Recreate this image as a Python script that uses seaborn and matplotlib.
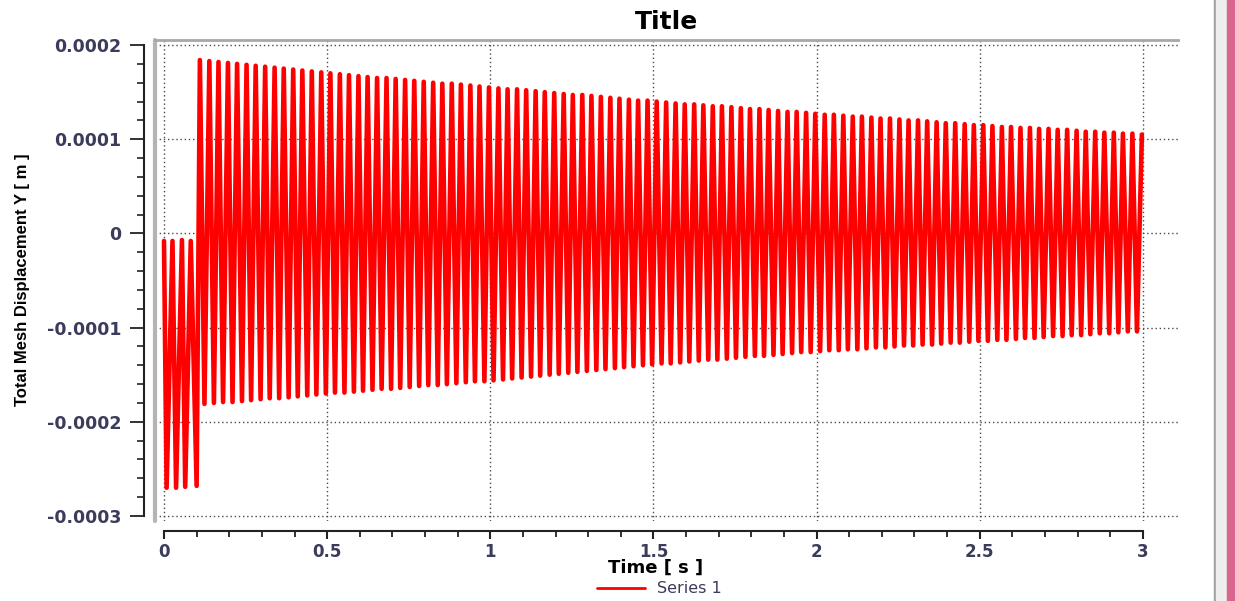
import pandas as pd
import matplotlib.pyplot as plt
import matplotlib.ticker as ticker
from matplotlib.lines import Line2D
from matplotlib.patches import Rectangle
import seaborn as sns

# extremes of the signal: time in ms, displacement in micrometres
early_ms = [0, 8, 26, 37, 55, 65, 82, 100]
early_um = [-8, -270, -8, -270, -7, -269, -8, -268]

top_ms = [110, 139, 167, 196, 224, 253, 281, 310, 339, 367, 396, 424, 453, 482, 510,
          539, 567, 596, 624, 653, 682, 710, 739, 767, 796, 825, 853, 882, 910, 939, 967, 996,
          1025, 1053, 1082, 1110, 1139, 1167, 1196, 1225, 1253, 1282, 1310, 1339, 1368, 1396, 1425, 1453, 1482, 1510,
          1539, 1568, 1596, 1625, 1653, 1682, 1710, 1739, 1768, 1796, 1825, 1853, 1882, 1911, 1939, 1968, 1996,
          2025, 2053, 2082, 2111, 2139, 2168, 2196, 2225, 2254, 2282, 2311, 2339, 2368, 2396, 2425, 2454, 2482,
          2511, 2539, 2568, 2596, 2625, 2654, 2682, 2711, 2739, 2768, 2797, 2825, 2854, 2882, 2911, 2939, 2968, 2997]
top_um = [184, 183, 182, 181, 180, 179, 178, 177, 176, 175, 174, 173, 172, 171, 170,
          169, 168, 167, 166, 165, 165, 164, 163, 162, 161, 160, 159, 159, 158, 157, 156, 155,
          154, 153, 153, 152, 151, 150, 149, 148, 147, 147, 146, 145, 144, 143, 142, 141, 141, 140,
          139, 138, 137, 137, 136, 135, 135, 134, 133, 132, 132, 131, 130, 129, 129, 128, 127,
          126, 126, 125, 124, 124, 123, 122, 122, 121, 120, 120, 119, 118, 117, 117, 116, 115,
          115, 114, 113, 113, 112, 112, 111, 111, 110, 110, 109, 108, 108, 107, 107, 106, 106, 105]

low_ms = [124, 153, 181, 210, 239, 267, 296, 324, 353, 382, 410, 439, 467, 496,
          524, 553, 582, 610, 639, 667, 696, 724, 753, 782, 810, 839, 867, 896, 925, 953, 982,
          1010, 1039, 1067, 1096, 1125, 1153, 1182, 1210, 1239, 1267, 1296, 1325, 1353, 1382, 1410, 1439, 1468, 1496,
          1525, 1553, 1582, 1610, 1639, 1668, 1696, 1725, 1753, 1782, 1811, 1839, 1868, 1896, 1925, 1953, 1982,
          2011, 2039, 2068, 2096, 2125, 2153, 2182, 2211, 2239, 2268, 2296, 2325, 2354, 2382, 2411, 2439, 2468, 2496,
          2525, 2554, 2582, 2611, 2639, 2668, 2696, 2725, 2754, 2782, 2811, 2839, 2868, 2897, 2925, 2954, 2982]
low_um = [-181, -180, -179, -179, -178, -177, -176, -175, -175, -174, -173, -172, -171, -170,
          -169, -169, -168, -167, -166, -165, -165, -164, -163, -162, -161, -161, -160, -159, -158, -157, -157,
          -156, -155, -154, -153, -152, -151, -150, -149, -148, -147, -146, -145, -144, -143, -142, -141, -140, -139,
          -138, -138, -137, -136, -135, -134, -134, -133, -132, -131, -130, -130, -129, -128, -127, -126, -126,
          -125, -124, -124, -123, -123, -122, -121, -121, -120, -119, -119, -118, -118, -117, -116, -116, -115, -114,
          -114, -113, -113, -112, -111, -111, -110, -109, -109, -108, -108, -107, -106, -106, -105, -104, -104]

x_ticks = [0, 0.5, 1, 1.5, 2, 2.5, 3]
x_minor = [0.1, 0.2, 0.3, 0.4, 0.6, 0.7, 0.8, 0.9, 1.1, 1.2, 1.3, 1.4, 1.6, 1.7, 1.8, 1.9,
           2.1, 2.2, 2.3, 2.4, 2.6, 2.7, 2.8, 2.9]
y_ticks = [-0.0003, -0.0002, -0.0001, 0, 0.0001, 0.0002]

if __name__ == '__main__':
	df = pd.DataFrame({'ms': early_ms + top_ms + low_ms, 'um': early_um + top_um + low_um})
	df = df.sort_values('ms')
	df['time'] = df.ms / 1000.0
	df['disp'] = df.um * 1e-6

	sns.set_style('white')
	plt.rcParams['font.family'] = ['DejaVu Sans']
	plt.rcParams['text.color'] = 'black'

	fig = plt.figure(figsize=(12.35, 6.01), dpi=100)
	ax = fig.add_axes([0.1255, 0.1331, 0.8283, 0.8003])

	sns.lineplot(data=df, x='time', y='disp', color='#ff0000', linewidth=3.3,
	             estimator=None, sort=True, ax=ax, legend=False)

	ax.set_xlim(-0.0276, 3.1076)
	ax.set_ylim(-3.053e-4, 2.053e-4)
	ax.set_xticks(x_ticks)
	ax.set_xticks(x_minor, minor=True)
	ax.set_yticks(y_ticks)
	ax.yaxis.set_minor_locator(ticker.MultipleLocator(0.00002))
	ax.xaxis.set_major_formatter(ticker.FuncFormatter(lambda v, p: '%g' % v))
	ax.yaxis.set_major_formatter(ticker.FuncFormatter(lambda v, p: '0' if abs(v) < 1e-12 else '%.4f' % v))

	ax.grid(True, which='major', color='#4a4a4a', linestyle=(0, (1, 2)), linewidth=1.0)

	ax.spines['right'].set_visible(False)
	ax.spines['top'].set_color('#a8a8a8')
	ax.spines['top'].set_linewidth(2.0)
	ax.spines['left'].set_position(('outward', 8))
	ax.spines['left'].set_bounds(-0.0003, 0.0002)
	ax.spines['left'].set_color('#222222')
	ax.spines['left'].set_linewidth(1.5)
	ax.spines['bottom'].set_position(('outward', 7))
	ax.spines['bottom'].set_bounds(0, 3)
	ax.spines['bottom'].set_color('#222222')
	ax.spines['bottom'].set_linewidth(1.5)
	ax.add_line(Line2D([0, 0], [0, 1], transform=ax.transAxes, color='#b4b4b4',
	                   linewidth=3.0, clip_on=False))

	ax.tick_params(axis='y', which='major', direction='out', length=10, width=1.3, pad=6,
	               labelsize=12.5, labelcolor='#3b3b5c', color='#222222', left=True)
	ax.tick_params(axis='y', which='minor', direction='out', length=5, width=1.2, color='#222222', left=True)
	ax.tick_params(axis='x', which='major', direction='out', length=6, width=1.5, pad=2.5,
	               labelsize=12, labelcolor='#3b3b5c', color='#222222', bottom=True)
	ax.tick_params(axis='x', which='minor', direction='out', length=4, width=1.3, color='#222222', bottom=True)
	for lab in ax.get_xticklabels() + ax.get_yticklabels():
		lab.set_fontweight('bold')

	ax.set_title('Title', fontsize=18, fontweight='bold', color='black', pad=8)
	ax.set_xlabel('Time [ s ]', fontsize=13, fontweight='bold', color='black')
	ax.xaxis.set_label_coords(0.489, -0.079)
	ax.set_ylabel('Total Mesh Displacement Y [ m ]', fontsize=12, fontweight='bold',
	              family=['Liberation Sans Narrow', 'Liberation Sans'], color='black')
	ax.yaxis.set_label_coords(-0.122, 0.501)

	handle = Line2D([], [], color='#ff0000', linewidth=2)
	fig.legend([handle], ['Series 1'], loc='center', bbox_to_anchor=(0.534, 0.02), frameon=False,
	           fontsize=11.5, handlelength=3.0, labelcolor='#3b3b5c')

	# window edge on the right side of the screenshot
	fig.patches.append(Rectangle((1214 / 1235, 0), 2 / 1235, 1, transform=fig.transFigure,
	                             color='#a0a0a0', zorder=0))
	fig.patches.append(Rectangle((1216 / 1235, 0), 11 / 1235, 1, transform=fig.transFigure,
	                             color='#eeeeee', zorder=0))
	fig.patches.append(Rectangle((1227 / 1235, 0), 8 / 1235, 1, transform=fig.transFigure,
	                             color='#d9668f', zorder=0))

	plt.savefig('out.png', dpi=100)
